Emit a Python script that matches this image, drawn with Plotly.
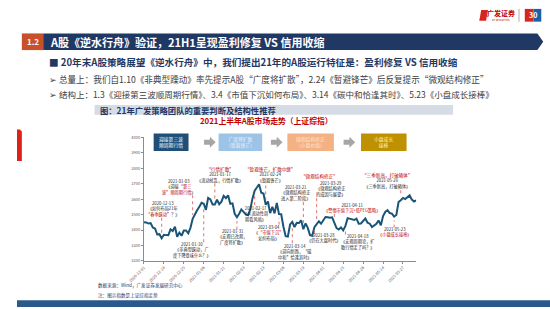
import plotly.graph_objects as go

W, H = 550, 309
FONT = "Noto Sans CJK SC"

# ---------------- data: Shanghai Composite daily close ----------------
months = ["2020-12", "2021-01", "2021-02", "2021-03", "2021-04", "2021-05", "2021-06"]
days = [
    [1, 2, 3, 4, 7, 8, 9, 10, 11, 14, 15, 16, 17, 18, 21, 22, 23, 24, 25, 28, 29, 30, 31],
    [4, 5, 6, 7, 8, 11, 12, 13, 14, 15, 18, 19, 20, 21, 22, 25, 26, 27, 28, 29],
    [1, 2, 3, 4, 5, 8, 9, 10, 18, 19, 22, 23, 24, 25, 26],
    [1, 2, 3, 4, 5, 8, 9, 10, 11, 12, 15, 16, 17, 18, 19, 22, 23, 24, 25, 26, 29, 30, 31],
    [1, 2, 6, 7, 8, 9, 12, 13, 14, 15, 16, 19, 20, 21, 22, 23, 26, 27, 28, 29, 30],
    [6, 7, 10, 11, 12, 13, 14, 17, 18, 19, 20, 21, 24, 25, 26, 27, 28, 31],
    [1, 2, 3, 4],
]
close_dec = [3451, 3449, 3442, 3445, 3416, 3410, 3371, 3373, 3347, 3369, 3367, 3366, 3404, 3394,
             3421, 3357, 3383, 3363, 3397, 3397, 3379, 3414, 3473]
close_jan = [3503, 3528, 3550, 3576, 3570, 3531, 3608, 3598, 3566, 3566, 3596, 3567, 3584, 3621,
             3606, 3625, 3570, 3573, 3505, 3483]
close_feb = [3505, 3533, 3518, 3501, 3496, 3532, 3603, 3655, 3675, 3696, 3642, 3636, 3564, 3585, 3509]
close_mar = [3551, 3508, 3576, 3503, 3502, 3421, 3360, 3357, 3436, 3453, 3419, 3446, 3445, 3463,
             3405, 3443, 3414, 3367, 3363, 3418, 3435, 3457, 3441]
close_apr = [3466, 3484, 3482, 3479, 3482, 3451, 3412, 3403, 3417, 3398, 3427, 3477, 3473, 3472,
             3465, 3474, 3441, 3442, 3457, 3474, 3447]
close_may = [3441, 3419, 3428, 3441, 3462, 3430, 3490, 3517, 3529, 3510, 3506, 3487, 3497, 3581,
             3593, 3608, 3600, 3615]
close_jun = [3624, 3597, 3584, 3592]

closes = close_dec + close_jan + close_feb + close_mar + close_apr + close_may + close_jun
dates = [f"{m}-{d:02d}" for m, ds in zip(months, days) for d in ds]
idx = list(range(len(dates)))

tick_step = 9
y_ticks = [3200, 3300, 3400, 3500, 3600, 3700, 3800, 3900, 4000]

# ---------------- text content ----------------
title_text = "A股《逆水行舟》验证，21H1呈现盈利修复 VS 信用收缩"
bullet1 = "■ 20年末A股策略展望《逆水行舟》中，我们提出21年的A股运行特征是：盈利修复 VS 信用收缩"
bullet2 = "➢ 总量上：我们自1.10《非典型躁动》率先提示A股“广度将扩散”，2.24《暂避锋芒》后反复提示“微观结构修正”"
bullet3 = "➢ 结构上：1.3《迎接第三波顺周期行情》、3.4《市值下沉如何布局》、3.14《碳中和恰逢其时》、5.23《小盘成长接棒》"
caption = "图：21年广发策略团队的重要判断及结构性推荐"
chart_title = "2021上半年A股市场走势（上证综指）"
source1 = "数据来源：Wind，广发证券发展研究中心"
source2 = "注：图示指数是上证综指走势"

flow_labels = ["迎接第三波<br>顺周期行情", "广度将扩散<br>（暂避锋芒）", "微观结构修正<br>（小盘价值）", "小盘成长<br>接棒"]

R = "<span style='color:#C00000'>{}</span>"
RH = "<span style='color:#C00000;font-size:4.6px'>{}</span>"
# event date, text, text centre (px), arrow start py, direction ('down' = text above line)
events = [
    ("2020-12-13", "2020-12-13<br>《如何布局21年<br>" + R.format("“春季躁动”") + "？》", 151, 209, 218, "down"),
    ("2021-01-03", "2021-01-03<br>《迎接" + R.format("“第三") + "<br>" + R.format("波”顺周期行情") + "》", 167, 187, 195, "down"),
    ("2021-01-17", RH.format("“行情扩散”") + "<br>2021-01-17<br>《流动扰乱，行情扩散》", 209, 174, 183, "down"),
    ("2021-01-10", "2021-01-10<br>《非典型躁动，广<br>度下降意味什么？》", 181, 251, 243, "up"),
    ("2021-01-31", "2021-01-31<br>《宏观已改观，<br>广度将扩散》", 222, 238, 230, "up"),
    ("2021-02-24", RH.format("“暂避锋芒，扩散中继”") + "<br>2021-02-24<br>《暂避锋芒》", 262, 174, 185, "down"),
    ("2021-02-17", "2021-02-17<br>《从流动性周<br>期看风格》", 246, 214, 205, "up"),
    ("2021-03-04", "2021-03-04<br>《" + R.format("“市值下沉”") + "<br>如何布局》", 260, 234, 225, "up"),
    ("2021-03-14", "2021-03-14<br>《迎向新路，“碳<br>中和”恰逢其时》", 287, 253, 244, "up"),
    ("2021-03-21", "2021-03-21<br>《微观结构修正<br>进入第二阶段》", 287, 193, 202, "down"),
    ("2021-03-29", "2021-03-29<br>《微观结构修正<br>的成因与展望》", 323, 189, 198, "down"),
    ("2021-03-28", "2021-03-28<br>《仍在大盘时代》", 317, 239, 234, "up"),
    ("2021-04-11", "2021-04-11<br>" + R.format("《警惕市值下沉+低PEG策略》"), 346, 208, 214, "down"),
    ("2021-04-18", "2021-04-18<br>《宏观周期论，扩<br>散行情走了吗？》", 352, 243, 235, "up"),
    ("2021-05-23", "2021-05-23<br>" + R.format("《小盘成长接棒》"), 390, 233, 228, "up"),
    ("2021-05-26", RH.format("“三季新高，打破箱体”") + "<br>2021-05-26<br>《三季新高，打破箱体》", 382, 180, 190, "down"),
]
extra_red = [("“微观结构修正”", 312, 176)]

# ---------------- geometry helpers ----------------
def px(x):
    return x / W

def py(y):
    return 1 - y / H

X0, X1 = 131, 412
Y_TOP, Y_BOT = 136, 262
YMIN, YMAX = y_ticks[0], y_ticks[-1]

def val_from_py(y):
    return YMIN + (Y_BOT - y) / (Y_BOT - Y_TOP) * (YMAX - YMIN)

def path(points):
    return "M" + " L".join(f"{px(a):.5f},{py(b):.5f}" for a, b in points) + " Z"

fig = go.Figure()
fig.add_trace(go.Scatter(x=idx, y=closes, mode="lines",
                         line=dict(color="#1A5578", width=2), hoverinfo="skip"))

shapes = []
ann = []

# title bar
shapes.append(dict(type="path", xref="paper", yref="paper",
                   path=path([(27, 30), (537, 30), (543, 38.5), (537, 47), (27, 47)]),
                   fillcolor="#1F3864", line=dict(width=0)))
shapes.append(dict(type="rect", xref="paper", yref="paper", x0=px(5), x1=px(27), y0=py(47), y1=py(30),
                   fillcolor="#C8502A", line=dict(width=0)))
ann.append(dict(x=px(16), y=py(38.5), text="<b>1.2</b>", font=dict(size=8, color="white", family=FONT)))
ann.append(dict(x=px(33), y=py(38.5), text="<b>" + title_text + "</b>", xanchor="left",
                font=dict(size=11, color="white", family=FONT)))

# left red tab
shapes.append(dict(type="path", xref="paper", yref="paper",
                   path=path([(0, 128), (3, 128), (5, 130), (5, 160), (0, 160)]),
                   fillcolor="#E0201B", line=dict(width=0)))

# bullets
ann.append(dict(x=px(32), y=py(59), text="<b>" + bullet1 + "</b>", xanchor="left",
                font=dict(size=9.6, color="#1F3864", family=FONT)))
ann.append(dict(x=px(32), y=py(76), text=bullet2, xanchor="left",
                font=dict(size=8.6, color="#404040", family=FONT)))
ann.append(dict(x=px(32), y=py(92), text=bullet3, xanchor="left",
                font=dict(size=8.5, color="#404040", family=FONT)))

# caption bar
shapes.append(dict(type="rect", xref="paper", yref="paper", x0=px(80), x1=px(450), y0=py(113), y1=py(103),
                   fillcolor="#D6DCE5", line=dict(width=0)))
ann.append(dict(x=px(85), y=py(108), text="<b>" + caption + "</b>", xanchor="left",
                font=dict(size=8.3, color="#1F3864", family=FONT)))
ann.append(dict(x=px(257), y=py(118.5), text="<b>" + chart_title + "</b>",
                font=dict(size=7.8, color="#C00000", family=FONT)))

# flow boxes
boxes = [(141, 177, "#1F4E79", "white"), (208, 253, "#9DC3E6", "#EAF2FA"),
         (279, 327, "#F4B183", "#FBE5D6"), (355, 402, "#BF9000", "#FFF2CC")]
for (bx0, bx1, col, tcol), lab in zip(boxes, flow_labels):
    shapes.append(dict(type="rect", xref="paper", yref="paper", x0=px(bx0), x1=px(bx1),
                       y0=py(150), y1=py(132), fillcolor=col, line=dict(width=0)))
    ann.append(dict(x=px((bx0 + bx1) / 2), y=py(141), text=lab,
                    font=dict(size=4.8, color=tcol, family=FONT)))
for ax0 in [193, 262, 337]:
    shapes.append(dict(type="path", xref="paper", yref="paper",
                       path=path([(ax0, 138.5), (ax0 + 6, 138.5), (ax0 + 6, 135.5), (ax0 + 12, 141),
                                  (ax0 + 6, 146.5), (ax0 + 6, 143.5), (ax0, 143.5)]),
                       fillcolor="#A6A6A6", line=dict(width=0)))

# event annotations
for d, txt, tx, ty, ay0, direc in events:
    i = max(k for k, dd in enumerate(dates) if dd <= d)
    v = closes[i]
    gap = 25 if direc == "down" else -25
    ann.append(dict(x=px(tx), y=py(ty), text=txt, font=dict(size=4.2, color="#262626", family=FONT)))
    shapes.append(dict(type="line", xref="x", yref="y", x0=i, x1=i,
                       y0=val_from_py(ay0), y1=v + gap,
                       line=dict(color="#E04B4B", width=0.8, dash="dot")))
for t, tx, ty in extra_red:
    ann.append(dict(x=px(tx), y=py(ty), text=t, font=dict(size=4.6, color="#C00000", family=FONT)))

# source
ann.append(dict(x=px(83), y=py(287), text=source1, xanchor="left",
                font=dict(size=4.6, color="#1F3864", family=FONT)))
ann.append(dict(x=px(83), y=py(297), text=source2, xanchor="left",
                font=dict(size=4.6, color="#1F3864", family=FONT)))

# bottom bar
shapes.append(dict(type="rect", xref="paper", yref="paper", x0=0, x1=1, y0=0, y1=py(302),
                   fillcolor="#2A5A8C", line=dict(width=0)))

# logo
ann.append(dict(x=px(499), y=py(9.5), text="<b>广发证券</b>", font=dict(size=7, color="#C00000", family=FONT)))
ann.append(dict(x=px(499), y=py(16), text="GF SECURITIES", font=dict(size=2.5, color="#C00000", family=FONT)))
shapes.append(dict(type="path", xref="paper", yref="paper",
                   path=path([(479, 6), (486, 6), (484, 17), (477, 17)]),
                   fillcolor="#D7261E", line=dict(width=0)))
shapes.append(dict(type="line", xref="paper", yref="paper", x0=px(518), x1=px(518), y0=py(5), y1=py(18),
                   line=dict(color="#999999", width=0.8)))
shapes.append(dict(type="rect", xref="paper", yref="paper", x0=px(524), x1=px(533), y0=py(18), y1=py(5),
                   fillcolor="#D7261E", line=dict(width=0)))
shapes.append(dict(type="rect", xref="paper", yref="paper", x0=px(533), x1=px(541), y0=py(18), y1=py(5),
                   fillcolor="#1F5FA8", line=dict(width=0)))
ann.append(dict(x=px(532.5), y=py(11.5), text="<b>30</b>", font=dict(size=7, color="white", family=FONT)))

for a in ann:
    a.setdefault("xref", "paper")
    a.setdefault("yref", "paper")
    a.setdefault("showarrow", False)
    a.setdefault("xanchor", "center")
    a.setdefault("yanchor", "middle")
    a.setdefault("borderpad", 0)

fig.update_layout(
    width=W, height=H, margin=dict(l=0, r=0, t=0, b=0),
    paper_bgcolor="white", plot_bgcolor="rgba(0,0,0,0)",
    showlegend=False, shapes=shapes, annotations=ann,
    font=dict(family=FONT),
    xaxis=dict(domain=[px(X0), px(X1)], range=[0, len(dates) - 1],
               tickvals=idx[::tick_step], ticktext=dates[::tick_step], tickangle=-45,
               tickfont=dict(size=4, color="#595959"), showgrid=False, zeroline=False,
               showline=True, linecolor="#8C8C8C", linewidth=0.8, ticks="outside", ticklen=2,
               tickcolor="#8C8C8C"),
    yaxis=dict(domain=[py(Y_BOT), py(Y_TOP)], range=[YMIN, YMAX], tickvals=y_ticks,
               tickfont=dict(size=4, color="#595959"), showgrid=False, zeroline=False,
               showline=True, linecolor="#8C8C8C", linewidth=0.8, ticks="outside", ticklen=2,
               tickcolor="#8C8C8C"),
)

fig.write_html("out.html")
